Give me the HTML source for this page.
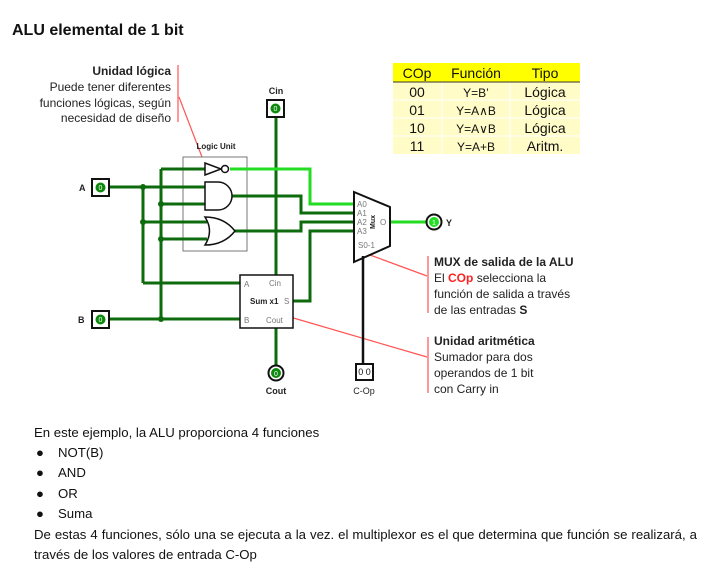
<!DOCTYPE html>
<html><head><meta charset="utf-8"><style>
html,body{margin:0;padding:0;background:#fff;}
body{width:719px;height:574px;position:relative;overflow:hidden;font-family:"Liberation Sans",Arial,sans-serif;}
.t{position:absolute;font-size:13.2px;color:#111;white-space:nowrap;}
.j{white-space:normal;width:663px;text-align:justify;text-align-last:justify;}
</style></head><body>
<svg width="719" height="574" style="position:absolute;left:0;top:0" font-family="Liberation Sans, Arial, sans-serif">
<text x="12" y="35" font-size="16" font-weight="bold" fill="#111">ALU elemental de 1 bit</text>

<!-- table -->
<rect x="393" y="63" width="187" height="19" fill="#ffff00"/>
<rect x="393" y="82" width="187" height="72" fill="#fffcc8"/>
<g stroke="#fff" stroke-width="1"><line x1="393" y1="100" x2="580" y2="100"/><line x1="393" y1="118" x2="580" y2="118"/><line x1="393" y1="136" x2="580" y2="136"/><line x1="442" y1="82" x2="442" y2="154"/><line x1="510" y1="82" x2="510" y2="154"/></g>
<line x1="393" y1="82" x2="580" y2="82" stroke="#333" stroke-width="1"/>
<g font-size="14" fill="#111" text-anchor="middle">
<text x="417" y="78">COp</text><text x="476" y="78">Función</text><text x="545" y="78">Tipo</text>
<text x="417" y="97">00</text><text x="476" y="97" font-size="12">Y=B’</text><text x="545" y="97">Lógica</text>
<text x="417" y="115">01</text><text x="476" y="115" font-size="12">Y=A∧B</text><text x="545" y="115">Lógica</text>
<text x="417" y="133">10</text><text x="476" y="133" font-size="12">Y=A∨B</text><text x="545" y="133">Lógica</text>
<text x="417" y="151">11</text><text x="476" y="151" font-size="12">Y=A+B</text><text x="545" y="151">Aritm.</text>
</g>

<!-- annotations -->
<g font-size="12" fill="#222" text-anchor="end">
<text x="171" y="75" font-weight="bold">Unidad lógica</text>
<text x="171" y="91">Puede tener diferentes</text>
<text x="171" y="107">funciones lógicas, según</text>
<text x="171" y="122">necesidad de diseño</text>
</g>
<g stroke="#ff5555" stroke-width="1.2" fill="none">
<line x1="178" y1="65" x2="178" y2="122"/>
<line x1="179" y1="97" x2="202" y2="157"/>
<line x1="428" y1="256" x2="428" y2="313"/>
<line x1="370" y1="255" x2="427" y2="276"/>
<line x1="428" y1="337" x2="428" y2="393"/>
<line x1="290" y1="317" x2="427" y2="357"/>
</g>
<g font-size="12" fill="#222">
<text x="434" y="266" font-weight="bold">MUX de salida de la ALU</text>
<text x="434" y="282">El <tspan fill="#ff2020" font-weight="bold">COp</tspan> selecciona la</text>
<text x="434" y="298">función de salida a través</text>
<text x="434" y="314">de las entradas <tspan font-weight="bold">S</tspan></text>
<text x="434" y="345" font-weight="bold">Unidad aritmética</text>
<text x="434" y="361">Sumador para dos</text>
<text x="434" y="377">operandos de 1 bit</text>
<text x="434" y="393">con Carry in</text>
</g>

<!-- logic unit box -->
<rect x="183" y="157" width="64" height="94" fill="none" stroke="#777" stroke-width="1"/>
<text x="216" y="149" font-size="8" font-weight="bold" text-anchor="middle" fill="#222">Logic Unit</text>

<!-- dark green wires -->
<g stroke="#0d6b0d" stroke-width="3" fill="none">
<polyline points="109,187 205,187"/>
<line x1="143" y1="187" x2="143" y2="283"/>
<polyline points="143,283 240,283"/>
<polyline points="143,222 207,222"/>
<line x1="161" y1="169" x2="161" y2="319"/>
<polyline points="161,169 205,169"/>
<polyline points="161,204 205,204"/>
<polyline points="161,239 207,239"/>
<polyline points="109,319 240,319"/>
<polyline points="232,196 301,196 301,213 354,213"/>
<polyline points="234,231 301,231 301,222 354,222"/>
<polyline points="293,301 310,301 310,231 354,231"/>
<line x1="276" y1="117" x2="276" y2="275"/>
<line x1="276" y1="328" x2="276" y2="366"/>
</g>
<g fill="#0d6b0d"><circle cx="143" cy="187" r="3"/><circle cx="161" cy="204" r="3"/><circle cx="143" cy="222" r="3"/><circle cx="161" cy="239" r="3"/><circle cx="161" cy="319" r="3"/></g>
<!-- bright green -->
<g stroke="#22dd22" stroke-width="3" fill="none">
<polyline points="230,169 310,169 310,204 354,204"/>
<line x1="390" y1="222" x2="426" y2="222"/>
</g>

<!-- gates -->
<g stroke="#111" stroke-width="1.5" fill="#fff">
<polygon points="205,163 205,175 221,169"/>
<circle cx="225" cy="169" r="3.5"/>
<path d="M205,182 L218,182 A14,14 0 0 1 218,210 L205,210 Z"/>
<path d="M205,217 Q214,231 205,245 Q224,245 235,231 Q224,217 205,217 Z"/>
</g>

<!-- mux -->
<polygon points="354,192 390,207 390,246 354,262" fill="#fff" stroke="#111" stroke-width="2"/>
<g font-size="8" fill="#777"><text x="357" y="207">A0</text><text x="357" y="216">A1</text><text x="357" y="225">A2</text><text x="357" y="234">A3</text><text x="358" y="248">S0-1</text><text x="380" y="225">O</text></g>
<text x="375" y="222" font-size="7" font-weight="bold" fill="#222" transform="rotate(-90 375 222)" text-anchor="middle">Mux</text>
<line x1="363" y1="256" x2="363" y2="364" stroke="#111" stroke-width="2.5"/>

<!-- adder -->
<rect x="240" y="275" width="53" height="53" fill="#fff" stroke="#111" stroke-width="1.5"/>
<g font-size="8" fill="#777"><text x="244" y="287">A</text><text x="269" y="286">Cin</text><text x="284" y="304">S</text><text x="244" y="323">B</text><text x="266" y="323">Cout</text></g>
<text x="250" y="304" font-size="8" font-weight="bold" fill="#222">Sum x1</text>

<!-- IO -->
<g stroke="#111" stroke-width="2" fill="#fff">
<rect x="92" y="179" width="17" height="17"/>
<rect x="92" y="311" width="17" height="17"/>
<rect x="267" y="100" width="17" height="17"/>
<rect x="356" y="364" width="17" height="16"/>
<circle cx="276" cy="373" r="7.5"/>
<circle cx="434" cy="222" r="7.5"/>
</g>
<g fill="#0d8a0d"><circle cx="100.5" cy="187.5" r="5"/><circle cx="100.5" cy="319.5" r="5"/><circle cx="275.5" cy="108.5" r="5"/><circle cx="276" cy="373" r="5"/></g>
<circle cx="434" cy="222" r="5" fill="#22dd22"/>
<g font-size="7" fill="#fff" text-anchor="middle"><text x="100.5" y="190">0</text><text x="100.5" y="322">0</text><text x="275.5" y="111">0</text><text x="276" y="376">0</text><text x="434" y="225">1</text></g>
<text x="364.5" y="375" font-size="9" fill="#111" text-anchor="middle">0 0</text>
<g font-size="9" font-weight="bold" fill="#222">
<text x="79" y="191">A</text><text x="78" y="323">B</text><text x="276" y="94" text-anchor="middle">Cin</text><text x="446" y="226">Y</text>
</g>
<g font-size="9" fill="#222" text-anchor="middle"><text x="276" y="394" font-weight="bold">Cout</text><text x="364" y="394">C-Op</text></g>
</svg>

<div class="t" style="left:34px;top:425px;">En este ejemplo, la ALU proporciona 4 funciones</div>
<div class="t" style="left:36px;top:445px;">●</div><div class="t" style="left:58px;top:445px;">NOT(B)</div>
<div class="t" style="left:36px;top:465px;">●</div><div class="t" style="left:58px;top:465px;">AND</div>
<div class="t" style="left:36px;top:486px;">●</div><div class="t" style="left:58px;top:486px;">OR</div>
<div class="t" style="left:36px;top:506px;">●</div><div class="t" style="left:58px;top:506px;">Suma</div>
<div class="t j" style="left:34px;top:527px;">De estas 4 funciones, sólo una se ejecuta a la vez. el multiplexor es el que determina que función se realizará, a</div>
<div class="t" style="left:34px;top:547px;">través de los valores de entrada C-Op</div>
</body></html>
